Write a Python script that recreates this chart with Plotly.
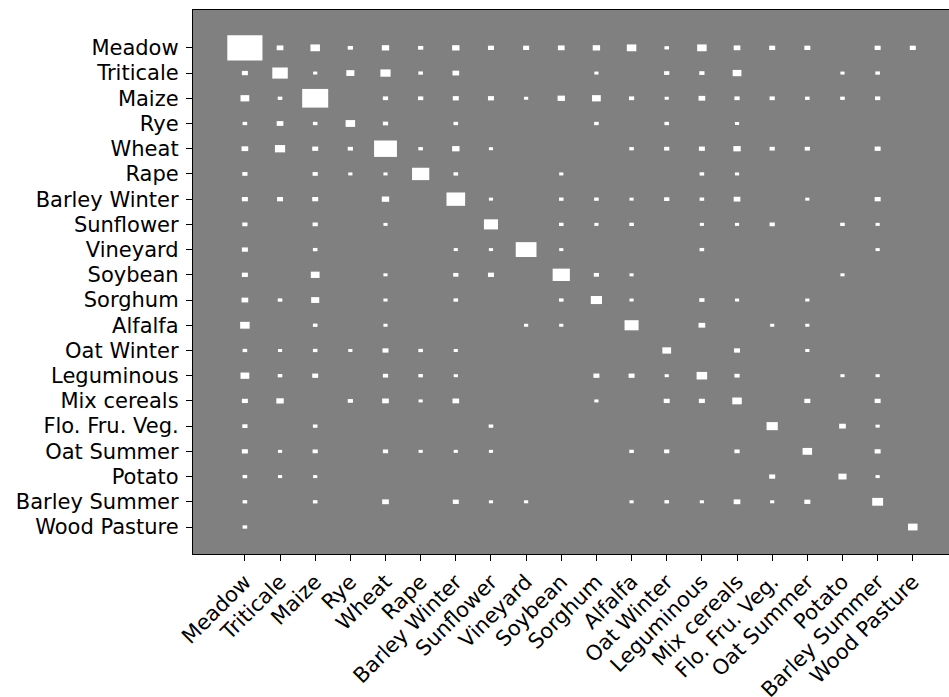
import math
import plotly.graph_objects as go

categories = ["Meadow", "Triticale", "Maize", "Rye", "Wheat", "Rape", "Barley Winter",
              "Sunflower", "Vineyard", "Soybean", "Sorghum", "Alfalfa", "Oat Winter",
              "Leguminous", "Mix cereals", "Flo. Fru. Veg.", "Oat Summer", "Potato",
              "Barley Summer", "Wood Pasture"]

# weights (relative, x1000); square side = sqrt(w / max)
weights = [
    [1000, 36, 73, 22, 44, 22, 44, 29, 29, 36, 44, 73, 17, 73, 36, 29, 29, 0, 29, 29],
    [29, 194, 14, 53, 84, 17, 36, 0, 0, 0, 14, 0, 22, 22, 62, 0, 0, 14, 17, 0],
    [62, 17, 548, 0, 22, 22, 29, 29, 14, 44, 62, 22, 14, 36, 22, 22, 17, 17, 22, 0],
    [17, 36, 17, 73, 22, 0, 17, 0, 0, 0, 17, 0, 17, 0, 14, 0, 0, 0, 0, 0],
    [36, 84, 29, 22, 423, 17, 44, 14, 0, 0, 0, 17, 22, 29, 44, 22, 22, 0, 29, 0],
    [22, 0, 22, 14, 14, 240, 17, 0, 0, 14, 0, 0, 0, 17, 14, 0, 0, 0, 0, 0],
    [29, 29, 29, 0, 44, 0, 281, 14, 0, 17, 17, 14, 22, 17, 36, 0, 14, 0, 29, 0],
    [22, 0, 22, 0, 14, 0, 0, 160, 0, 17, 14, 17, 0, 14, 14, 22, 0, 17, 14, 0],
    [29, 0, 17, 0, 0, 0, 14, 14, 348, 14, 0, 0, 0, 17, 0, 0, 0, 0, 14, 0],
    [29, 0, 62, 0, 14, 0, 22, 29, 0, 240, 22, 14, 0, 0, 0, 0, 0, 14, 0, 0],
    [36, 17, 53, 0, 14, 0, 17, 0, 0, 17, 102, 14, 0, 22, 14, 0, 14, 0, 0, 0],
    [73, 0, 17, 0, 14, 0, 0, 0, 14, 14, 0, 160, 0, 36, 0, 14, 14, 0, 0, 0],
    [17, 14, 17, 14, 29, 17, 14, 0, 0, 0, 0, 0, 62, 0, 29, 0, 14, 0, 0, 0],
    [62, 17, 29, 0, 22, 17, 14, 0, 0, 0, 29, 29, 14, 90, 22, 0, 0, 14, 14, 0],
    [29, 44, 0, 22, 36, 14, 36, 0, 0, 0, 14, 0, 29, 29, 73, 0, 29, 0, 29, 0],
    [22, 0, 17, 0, 0, 0, 0, 17, 0, 0, 0, 0, 0, 0, 0, 102, 0, 36, 14, 0],
    [29, 14, 22, 0, 22, 14, 14, 14, 0, 0, 0, 17, 22, 0, 22, 0, 73, 0, 29, 0],
    [17, 14, 14, 0, 0, 0, 0, 0, 0, 0, 0, 0, 0, 0, 0, 29, 0, 53, 14, 0],
    [17, 0, 17, 0, 36, 0, 29, 14, 14, 0, 0, 14, 17, 14, 36, 14, 29, 0, 96, 0],
    [17, 0, 0, 0, 0, 0, 0, 0, 0, 0, 0, 0, 0, 0, 0, 0, 0, 0, 0, 73],
]

max_w = max(max(r) for r in weights)
shapes = []
for i, row in enumerate(weights):
    for j, w in enumerate(row):
        if w <= 0:
            continue
        s = math.sqrt(w / max_w)
        shapes.append(dict(type="rect", xref="x", yref="y",
                           x0=j - s / 2, x1=j + s / 2, y0=i - s / 2, y1=i + s / 2,
                           fillcolor="white", line=dict(width=0), layer="above"))

fig = go.Figure()
fig.add_trace(go.Scatter(x=[0], y=[0], mode="markers", marker=dict(opacity=0),
                         hoverinfo="skip", showlegend=False))

font = dict(family="DejaVu Sans", size=21, color="black")
idx = list(range(len(categories)))
fig.update_layout(
    width=949, height=697,
    margin=dict(l=193, r=0, t=10, b=143, autoexpand=False),
    paper_bgcolor="white", plot_bgcolor="#808080",
    shapes=shapes, showlegend=False,
    xaxis=dict(range=[-1.476, 20.03], tickmode="array", tickvals=idx, ticktext=categories,
               tickangle=-45, showgrid=False, zeroline=False, showline=True, mirror=True,
               linecolor="black", linewidth=1.3, ticks="outside", ticklen=6,
               tickwidth=1.2, tickcolor="black", tickfont=font, automargin=False),
    yaxis=dict(range=[20.07, -1.5], tickmode="array", tickvals=idx, ticktext=categories,
               showgrid=False, zeroline=False, showline=True, mirror=False,
               linecolor="black", linewidth=1.3, ticks="outside", ticklen=6,
               tickwidth=1.2, tickcolor="black", tickfont=font, automargin=False,
               ticklabelstandoff=3),
)
fig.write_html("out.html", config={"displayModeBar": False},
               post_script="document.body.style.margin='0';document.body.style.overflow='hidden';")
